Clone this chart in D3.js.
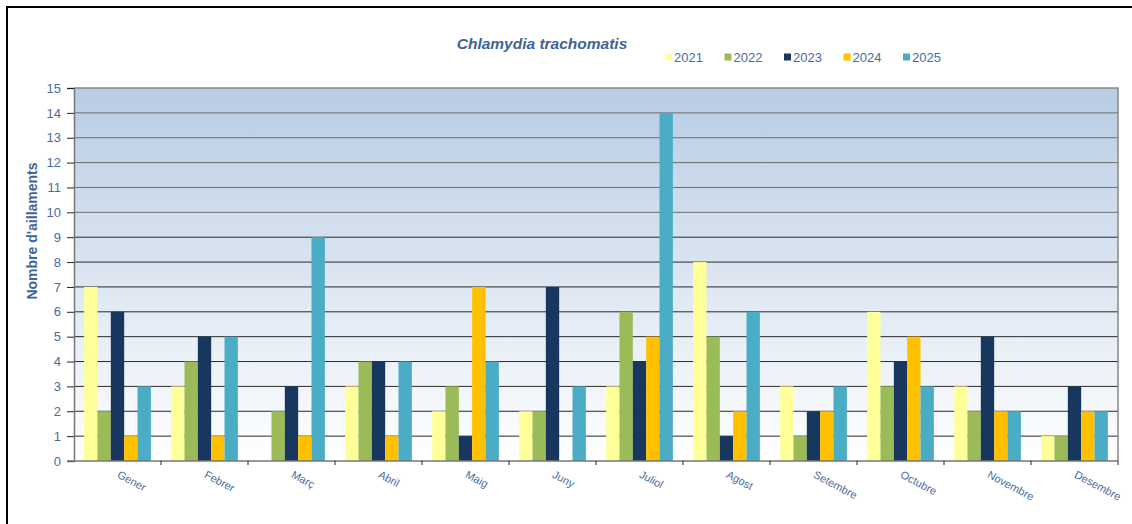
<!DOCTYPE html>
<html>
<head>
<meta charset="utf-8">
<script src="https://cdn.jsdelivr.net/npm/d3@7"></script>
<style>
  body { margin: 0; background: #fff; }
  svg { display: block; font-family: "Liberation Sans", Arial, sans-serif; }
</style>
</head>
<body>
<div id="chart"></div>
<script>
var months = ['Gener', 'Febrer', 'Març', 'Abril', 'Maig', 'Juny',
    'Juliol', 'Agost', 'Setembre', 'Octubre', 'Novembre', 'Desembre'];
var years = ['2021', '2022', '2023', '2024', '2025'];

// cases per month, one array per year
var v2021 = [7, 3, 0, 3, 2, 2, 3, 8, 3, 6, 3, 1];
var v2022 = [2, 4, 2, 4, 3, 2, 6, 5, 1, 3, 2, 1];
var v2023 = [6, 5, 3, 4, 1, 7, 4, 1, 2, 4, 5, 3];
var v2024 = [1, 1, 1, 1, 7, 0, 5, 2, 2, 5, 2, 2];
var v2025 = [3, 5, 9, 4, 4, 3, 14, 6, 3, 3, 2, 2];
var yTicks = d3.range(0, 16);

var series = [v2021, v2022, v2023, v2024, v2025];
var colors = ['#FFFF99', '#9BBB59', '#17375E', '#FFC000', '#4BACC6'];

var chart_width = 1132, chart_height = 524;
var plotLeft = 74, plotRight = 1118, plotTop = 88, plotBottom = 461;
var txt = '#4A6B9E';

var svg = d3.select('#chart').append('svg')
    .attr('width', chart_width)
    .attr('height', chart_height);

// outer frame
svg.append('rect')
    .attr('x', 7).attr('y', 7)
    .attr('width', 1140).attr('height', 540)
    .attr('fill', 'none')
    .attr('stroke', '#000')
    .attr('stroke-width', 2);

var defs = svg.append('defs');
var grad = defs.append('linearGradient')
    .attr('id', 'bg')
    .attr('x1', 0).attr('y1', 0).attr('x2', 0).attr('y2', 1);
grad.append('stop').attr('offset', '0%').attr('stop-color', '#B8CCE4');
grad.append('stop').attr('offset', '100%').attr('stop-color', '#FFFFFF');

var x0 = d3.scaleBand().domain(months).range([plotLeft, plotRight]);
var x1 = d3.scaleBand().domain(years).range([0, x0.bandwidth()]).paddingOuter(0.76);
var y = d3.scaleLinear().domain([0, 15]).range([plotBottom, plotTop]);

// plot background
svg.append('rect')
    .attr('x', plotLeft).attr('y', plotTop)
    .attr('width', plotRight - plotLeft).attr('height', plotBottom - plotTop)
    .attr('fill', 'url(#bg)');

// gridlines
svg.append('g')
    .selectAll('line')
    .data(yTicks.filter(function (d) { return d > 0 && d < 15; }))
    .enter()
    .append('line')
    .attr('x1', plotLeft).attr('x2', plotRight)
    .attr('y1', function (d) { return y(d); })
    .attr('y2', function (d) { return y(d); })
    .attr('stroke', function (d) { return d > 9 ? '#6e6e6e' : '#2a2a2a'; })
    .attr('stroke-width', 1);

// bars
var groups = svg.append('g')
    .selectAll('g')
    .data(months)
    .enter()
    .append('g')
    .attr('transform', function (d) { return 'translate(' + x0(d) + ',0)'; });

groups.selectAll('rect')
    .data(function (m, i) {
        return years.map(function (yr, j) { return { year: yr, value: series[j][i], color: colors[j] }; });
    })
    .enter()
    .append('rect')
    .attr('x', function (d) { return x1(d.year); })
    .attr('y', function (d) { return y(d.value); })
    .attr('width', x1.bandwidth())
    .attr('height', function (d) { return y(0) - y(d.value); })
    .attr('fill', function (d) { return d.color; });

// plot border (top, right)
svg.append('path')
    .attr('d', 'M' + plotLeft + ',' + plotTop + 'H' + plotRight + 'V' + plotBottom)
    .attr('fill', 'none')
    .attr('stroke', '#888')
    .attr('stroke-width', 1.5);

// y axis
var yAxis = svg.append('g')
    .attr('transform', 'translate(' + plotLeft + ',0)')
    .call(d3.axisLeft(y).tickValues(yTicks).tickSize(7).tickPadding(6));
yAxis.select('.domain').attr('stroke', '#777').attr('stroke-width', 1.5);
yAxis.selectAll('.tick line').attr('stroke', '#222');
yAxis.selectAll('text')
    .attr('fill', txt)
    .style('font-size', '13px')
    .style('font-family', '"Liberation Sans", Arial, sans-serif');

// x axis
var xAxis = svg.append('g')
    .attr('transform', 'translate(0,' + plotBottom + ')');
xAxis.append('line')
    .attr('x1', plotLeft - 7).attr('x2', plotRight)
    .attr('stroke', '#777').attr('stroke-width', 1.5);
xAxis.selectAll('.tk')
    .data(months)
    .enter()
    .append('line')
    .attr('x1', function (d) { return x0(d) + x0.bandwidth(); })
    .attr('x2', function (d) { return x0(d) + x0.bandwidth(); })
    .attr('y1', 0).attr('y2', 4)
    .attr('stroke', '#222');
xAxis.selectAll('.lbl')
    .data(months)
    .enter()
    .append('text')
    .attr('transform', function (d) {
        return 'translate(' + (x0(d) + x0.bandwidth() / 2 - 1) + ',16) rotate(28)';
    })
    .attr('fill', txt)
    .style('font-size', '11px')
    .text(function (d) { return d; });

// y axis title
svg.append('text')
    .attr('transform', 'translate(37,231) rotate(-90)')
    .attr('text-anchor', 'middle')
    .attr('fill', '#3F6497')
    .style('font-size', '14px')
    .style('font-weight', 'bold')
    .text("Nombre d'aillaments");

// title
svg.append('text')
    .attr('x', 542).attr('y', 49)
    .attr('text-anchor', 'middle')
    .attr('fill', '#3F6497')
    .style('font-size', '15.5px')
    .style('font-weight', 'bold')
    .style('font-style', 'italic')
    .text('Chlamydia trachomatis');

// legend
var legend = svg.append('g')
    .selectAll('g')
    .data(years)
    .enter()
    .append('g')
    .attr('transform', function (d, i) { return 'translate(' + (665 + i * 59.5) + ',57)'; });
legend.append('rect')
    .attr('x', 0).attr('y', -3.5)
    .attr('width', 7).attr('height', 7)
    .attr('fill', function (d, i) { return colors[i]; });
legend.append('text')
    .attr('x', 9).attr('y', 5)
    .attr('fill', txt)
    .style('font-size', '13px')
    .text(function (d) { return d; });
</script>
</body>
</html>
